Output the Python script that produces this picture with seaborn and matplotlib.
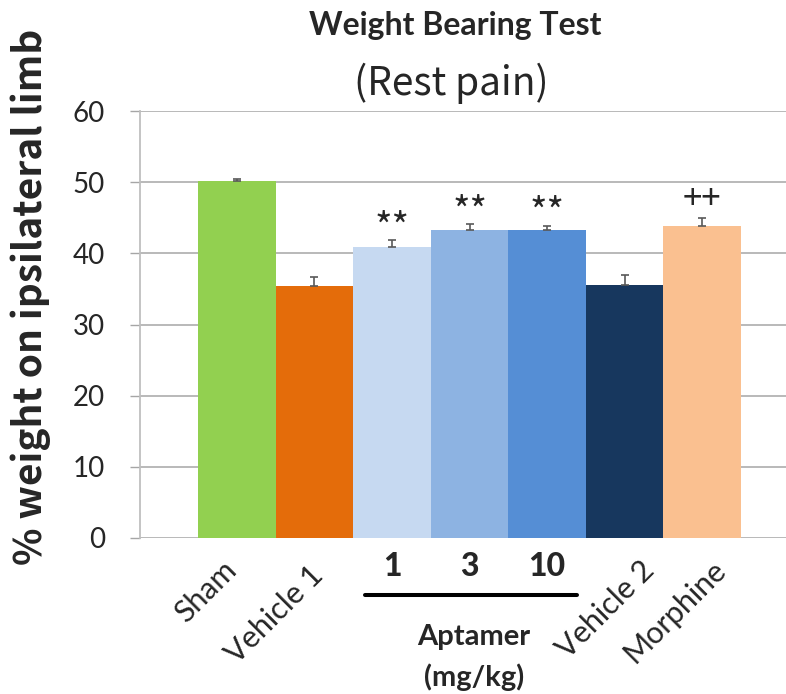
import matplotlib
matplotlib.use("Agg")
import matplotlib.pyplot as plt
import seaborn as sns
import pandas as pd
from matplotlib.transforms import offset_copy, blended_transform_factory

# Weight bearing test, rest pain: mean % weight on ipsilateral limb with SEM
groups = ["Sham", "Vehicle 1", "Aptamer 1", "Aptamer 3", "Aptamer 10", "Vehicle 2", "Morphine"]
means = [50.2, 35.4, 40.9, 43.3, 43.3, 35.5, 43.9]
sems = [0.2, 1.3, 1.0, 0.8, 0.6, 1.5, 1.0]
marks = ["", "", "**", "**", "**", "", "++"]
xlabels = ["Sham", "Vehicle 1", "", "", "", "Vehicle 2", "Morphine"]
doses = ["1", "3", "10"]
yticks = [0, 10, 20, 30, 40, 50, 60]
colors = ["#92D050", "#E46C0A", "#C6D9F1", "#8DB3E2", "#558ED5", "#17375E", "#FAC090"]

df = pd.DataFrame({"group": groups, "value": means})

sns.set_theme(style="white")
plt.rcParams["font.family"] = ["Lato", "DejaVu Sans"]

W, H = 786, 694
fig = plt.figure(figsize=(W / 100, H / 100), dpi=100)
ax = fig.add_axes([140 / W, 1 - 538 / H, (W - 140) / W, (538 - 111) / H])

sns.barplot(data=df, x="group", y="value", hue="group", order=groups,
            palette=colors, saturation=1, width=1.0, dodge=False,
            legend=False, errorbar=None, ax=ax, zorder=2, linewidth=0)

xs = list(range(len(groups)))
ax.errorbar(xs, means, yerr=[[0] * len(sems), sems], fmt="none",
            ecolor="#595959", elinewidth=1.2, capsize=3, capthick=1.2, zorder=3)

ax.set_xlim(-1.25, 7.08)
ax.set_ylim(0, 60)
ax.set_yticks(yticks)
ax.set_yticklabels([str(t) for t in yticks])
ax.yaxis.grid(True, color="#A6A6A6", lw=1.1)
ax.set_axisbelow(True)
for s in ["top", "right", "bottom"]:
    ax.spines[s].set_visible(False)
ax.spines["left"].set_color("#BFBFBF")
ax.spines["left"].set_linewidth(1.3)
ax.tick_params(axis="y", length=7.2, width=1, color="#A6A6A6", pad=18,
               labelsize=20, left=True)
ax.set_xticks(xs)
ax.set_xticklabels([""] * len(xs))
ax.tick_params(axis="x", length=0)
ax.set_xlabel("")
ax.set_ylabel("")

# significance marks above the error bars
mark_style = {"**": (27, 11), "++": (25, 19)}
for x, m, e, v in zip(xs, marks, sems, means):
    if m:
        size, lift = mark_style[m]
        tr = offset_copy(ax.transData, fig=fig, x=0, y=lift, units="dots")
        ax.text(x, v + e, m, transform=tr, ha="center", va="center",
                fontsize=size, family=["Noto Sans CJK JP", "DejaVu Sans"])

# rotated group labels under the bars (anchored at the end of the baseline)
btr = blended_transform_factory(ax.transData, ax.transAxes)
label_shift = {"Sham": (1, -34), "Vehicle 1": (10, -39),
               "Vehicle 2": (31, -34), "Morphine": (25, -34)}
for x, lab in zip(xs, xlabels):
    if lab:
        dx, dy = label_shift[lab]
        tr = offset_copy(btr, fig=fig, x=dx, y=dy, units="dots")
        ax.text(x, 0, lab, transform=tr, rotation=45, ha="right",
                va="baseline", rotation_mode="anchor", fontsize=22)

# aptamer dose labels, bracket line and caption
for x, d in zip(xs[2:5], doses):
    tr = offset_copy(btr, fig=fig, x=0, y=-29, units="dots")
    ax.text(x, 0, d, transform=tr, ha="center", va="center",
            fontsize=23, fontweight="black")

fig.add_artist(plt.Line2D([365 / W, 577 / W], [1 - 595 / H, 1 - 595 / H],
                          color="black", lw=2.9))
fig.text(474 / W, 1 - 637 / H, "Aptamer", ha="center", va="center",
         fontsize=21, fontweight="bold")
fig.text(474 / W, 1 - 677 / H, "(mg/kg)", ha="center", va="center",
         fontsize=21, fontweight="bold")

# titles
fig.text(455 / W, 1 - 26 / H, "Weight Bearing Test", ha="center", va="center",
         fontsize=23, fontweight="bold")
fig.text(451 / W, 1 - 83 / H, "(Rest pain)", ha="center", va="center",
         fontsize=28, family=["Noto Sans CJK JP", "DejaVu Sans"])

# y axis title
fig.text(31 / W, 1 - 297 / H, "% weight on ipsilateral limb", rotation=90,
         ha="center", va="center", fontsize=28, fontweight="bold",
         family=["Noto Sans CJK JP", "DejaVu Sans"])

fig.savefig("out.png", dpi=100)
